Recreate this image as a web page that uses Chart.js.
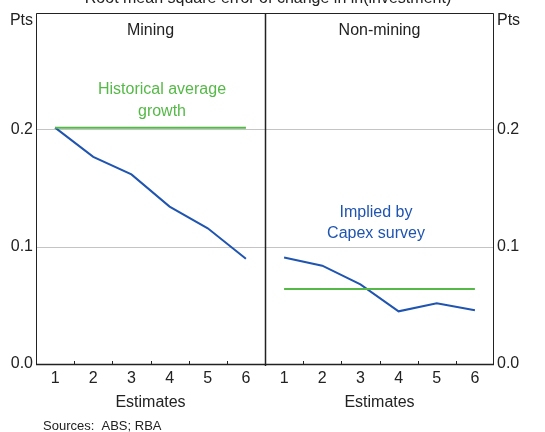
<!DOCTYPE html>
<html>
<head>
<meta charset="utf-8">
<script src="https://cdn.jsdelivr.net/npm/chart.js@4"></script>
<style>
  html, body { margin: 0; padding: 0; background: #fff; }
  #wrap { width: 545px; height: 432px; position: relative; }
</style>
</head>
<body>
<div id="wrap"><canvas id="chart"></canvas></div>
<script>
// Dati
const estimates = ['1', '2', '3', '4', '5', '6'];
const miningImplied = [0.202, 0.177, 0.162, 0.1345, 0.116, 0.090];
const nonMiningImplied = [0.091, 0.084, 0.068, 0.045, 0.052, 0.046];
const miningHistorical = [0.202, 0.202, 0.202, 0.202, 0.202, 0.202];
const nonMiningHistorical = [0.064, 0.064, 0.064, 0.064, 0.064, 0.064];
const yTicks = [0, 0.1, 0.2, 0.3];

const BLUE = '#1f54b0';
const GREEN = '#55b947';
const TEXT = '#222';
const FONT = '"Liberation Sans", Arial, sans-serif';

const labels = estimates.concat(estimates);
const blanks = estimates.map(() => null);

// Testi e cornice disegnati a mano
const decorations = {
    id: 'decorations',
    afterDraw(chart) {
        const ctx = chart.ctx;
        const area = chart.chartArea;
        const x = chart.scales.x;
        const step = x.getPixelForValue(1) - x.getPixelForValue(0);
        const mid = (x.getPixelForValue(5) + x.getPixelForValue(6)) / 2;

        ctx.save();
        // cornice
        ctx.strokeStyle = '#222';
        ctx.lineWidth = 1;
        ctx.beginPath();
        ctx.moveTo(area.left + 0.5, area.bottom);
        ctx.lineTo(area.left + 0.5, area.top + 0.5);
        ctx.lineTo(area.right - 0.5, area.top + 0.5);
        ctx.lineTo(area.right - 0.5, area.bottom);
        ctx.stroke();
        ctx.lineWidth = 1.5;
        ctx.beginPath();
        ctx.moveTo(Math.round(mid) + 0.5, area.top);
        ctx.lineTo(Math.round(mid) + 0.5, area.bottom + 2);
        ctx.stroke();
        ctx.beginPath();
        ctx.moveTo(area.left, area.bottom + 0.5);
        ctx.lineTo(area.right, area.bottom + 0.5);
        ctx.stroke();

        // tacche interne
        ctx.lineWidth = 1;
        ctx.beginPath();
        for (let i = 0; i < labels.length - 1; i++) {
            if (i === 5) continue;
            const px = Math.round(x.getPixelForValue(i) + step / 2) + 0.5;
            ctx.moveTo(px, area.bottom);
            ctx.lineTo(px, area.bottom - 3);
        }
        ctx.stroke();

        ctx.textAlign = 'center';
        ctx.textBaseline = 'middle';
        ctx.fillStyle = TEXT;
        ctx.font = '16px ' + FONT;
        ctx.fillText('Root mean square error of change in ln(investment)', 268, -1);
        ctx.fillText('Mining', (area.left + mid) / 2, 31);
        ctx.fillText('Non-mining', (mid + area.right) / 2, 31);
        ctx.fillText('Estimates', (area.left + mid) / 2, 403);
        ctx.fillText('Estimates', (mid + area.right) / 2, 403);

        ctx.textAlign = 'right';
        ctx.fillText('Pts', area.left - 3, 21);
        ctx.textAlign = 'left';
        ctx.fillText('Pts', area.right + 3, 21);

        ctx.textAlign = 'center';
        ctx.fillStyle = GREEN;
        ctx.fillText('Historical average', 162, 90);
        ctx.fillText('growth', 162, 112);
        ctx.fillStyle = BLUE;
        ctx.fillText('Implied by', 376, 213);
        ctx.fillText('Capex survey', 376, 234);

        ctx.textAlign = 'left';
        ctx.fillStyle = TEXT;
        ctx.font = '13px ' + FONT;
        ctx.fillText('Sources:  ABS; RBA', 43, 426);
        ctx.restore();
    }
};

const yTickOpts = {
    autoSkip: false,
    color: TEXT,
    font: { size: 16, family: FONT },
    padding: 3,
    callback: function(value) {
        return value >= 0.3 ? '' : value.toFixed(1);
    }
};

const chart = new Chart(document.getElementById('chart'), {
    type: 'line',
    data: {
        labels: labels,
        datasets: [
            { data: miningHistorical.concat(blanks), borderColor: GREEN, borderWidth: 2 },
            { data: blanks.concat(nonMiningHistorical), borderColor: GREEN, borderWidth: 2 },
            { data: miningImplied.concat(blanks), borderColor: BLUE, borderWidth: 2 },
            { data: blanks.concat(nonMiningImplied), borderColor: BLUE, borderWidth: 2 }
        ]
    },
    options: {
        responsive: true,
        maintainAspectRatio: false,
        animation: false,
        layout: { padding: { top: 13, left: 0, right: 0, bottom: 0 } },
        elements: {
            point: { radius: 0, hoverRadius: 0 },
            line: { tension: 0, fill: false }
        },
        plugins: {
            legend: { display: false },
            tooltip: { enabled: false }
        },
        scales: {
            x: {
                type: 'category',
                offset: true,
                grid: { display: false, drawTicks: false },
                border: { display: false },
                ticks: {
                    color: TEXT,
                    font: { size: 16, family: FONT },
                    padding: 5,
                    maxRotation: 0,
                    autoSkip: false
                },
                afterFit: function(scale) { scale.height = 68; }
            },
            y: {
                position: 'left',
                min: 0,
                max: 0.3,
                afterBuildTicks: function(scale) {
                    scale.ticks = yTicks.map(v => ({ value: v }));
                },
                grid: { color: '#c4c4c4', lineWidth: 1, drawTicks: false },
                border: { display: false },
                ticks: yTickOpts,
                afterFit: function(scale) { scale.width = 36; }
            },
            y2: {
                position: 'right',
                min: 0,
                max: 0.3,
                afterBuildTicks: function(scale) {
                    scale.ticks = yTicks.map(v => ({ value: v }));
                },
                grid: { display: false, drawTicks: false },
                border: { display: false },
                ticks: yTickOpts,
                afterFit: function(scale) { scale.width = 51; }
            }
        }
    },
    plugins: [decorations]
});
</script>
</body>
</html>
